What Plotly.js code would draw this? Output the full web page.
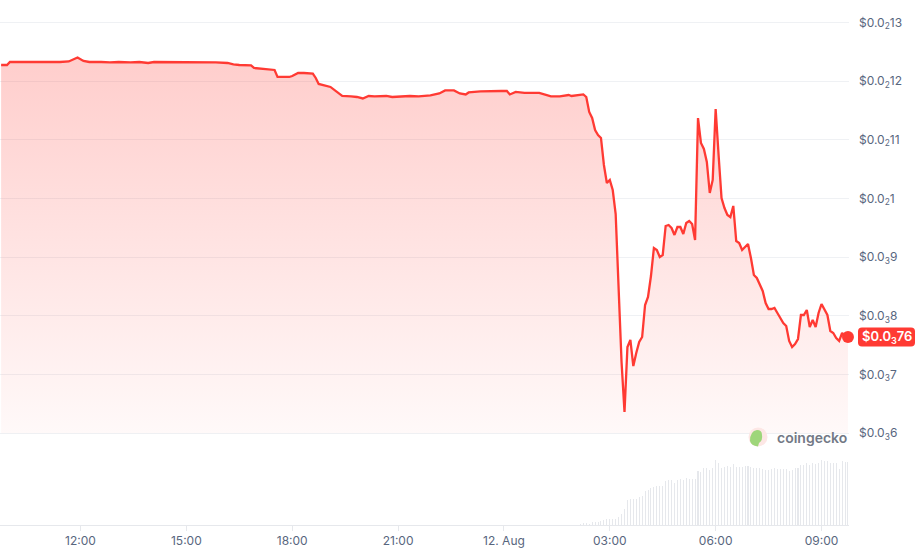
<!DOCTYPE html>
<html>
<head>
<meta charset="utf-8">
<script src="https://cdn.plot.ly/plotly-3.0.1.min.js"></script>
<style>
  html, body { margin: 0; padding: 0; background: #ffffff; }
  #chart { width: 919px; height: 559px; }
</style>
</head>
<body>
<div id="chart"></div>
<script>
// ---- price series (time, USD) ----
const priceTimes = [
  '2024-08-11 09:45','2024-08-11 09:55','2024-08-11 10:00','2024-08-11 10:35','2024-08-11 11:00',
  '2024-08-11 11:25','2024-08-11 11:40','2024-08-11 11:55','2024-08-11 12:05','2024-08-11 12:15',
  '2024-08-11 12:35','2024-08-11 12:50','2024-08-11 13:05','2024-08-11 13:25','2024-08-11 13:40',
  '2024-08-11 13:55','2024-08-11 14:05','2024-08-11 14:30','2024-08-11 15:00','2024-08-11 15:25',
  '2024-08-11 15:50','2024-08-11 16:10','2024-08-11 16:20','2024-08-11 16:30','2024-08-11 16:50',
  '2024-08-11 16:55','2024-08-11 17:10','2024-08-11 17:20','2024-08-11 17:30','2024-08-11 17:35',
  '2024-08-11 17:55','2024-08-11 18:00','2024-08-11 18:10','2024-08-11 18:20','2024-08-11 18:35',
  '2024-08-11 18:40','2024-08-11 18:45','2024-08-11 19:05','2024-08-11 19:15','2024-08-11 19:25',
  '2024-08-11 19:40','2024-08-11 19:50','2024-08-11 20:00','2024-08-11 20:10','2024-08-11 20:20',
  '2024-08-11 20:40','2024-08-11 20:50','2024-08-11 21:05','2024-08-11 21:20','2024-08-11 21:35',
  '2024-08-11 21:55','2024-08-11 22:10','2024-08-11 22:20','2024-08-11 22:35','2024-08-11 22:45',
  '2024-08-11 22:55','2024-08-11 23:00','2024-08-11 23:20','2024-08-11 23:35','2024-08-11 23:55',
  '2024-08-12 00:05','2024-08-12 00:10','2024-08-12 00:20','2024-08-12 00:35','2024-08-12 01:00',
  '2024-08-12 01:10','2024-08-12 01:20','2024-08-12 01:35','2024-08-12 01:50','2024-08-12 01:55',
  '2024-08-12 02:05','2024-08-12 02:15','2024-08-12 02:20','2024-08-12 02:25','2024-08-12 02:30',
  '2024-08-12 02:35','2024-08-12 02:40','2024-08-12 02:45','2024-08-12 02:50','2024-08-12 02:55',
  '2024-08-12 03:00','2024-08-12 03:05','2024-08-12 03:10','2024-08-12 03:15','2024-08-12 03:20',
  '2024-08-12 03:25','2024-08-12 03:30','2024-08-12 03:35','2024-08-12 03:40','2024-08-12 03:45',
  '2024-08-12 03:50','2024-08-12 03:55','2024-08-12 04:00','2024-08-12 04:05','2024-08-12 04:10',
  '2024-08-12 04:15','2024-08-12 04:20','2024-08-12 04:25','2024-08-12 04:30','2024-08-12 04:35',
  '2024-08-12 04:40','2024-08-12 04:45','2024-08-12 04:50','2024-08-12 04:55','2024-08-12 05:00',
  '2024-08-12 05:05','2024-08-12 05:10','2024-08-12 05:15','2024-08-12 05:20','2024-08-12 05:25',
  '2024-08-12 05:30','2024-08-12 05:35','2024-08-12 05:40','2024-08-12 05:45','2024-08-12 05:50',
  '2024-08-12 05:55','2024-08-12 06:00','2024-08-12 06:05','2024-08-12 06:10','2024-08-12 06:15',
  '2024-08-12 06:20','2024-08-12 06:25','2024-08-12 06:30','2024-08-12 06:35','2024-08-12 06:40',
  '2024-08-12 06:45','2024-08-12 06:50','2024-08-12 06:55','2024-08-12 07:00','2024-08-12 07:05',
  '2024-08-12 07:10','2024-08-12 07:15','2024-08-12 07:20','2024-08-12 07:25','2024-08-12 07:30',
  '2024-08-12 07:35','2024-08-12 07:40','2024-08-12 07:45','2024-08-12 07:50','2024-08-12 07:55',
  '2024-08-12 08:00','2024-08-12 08:05','2024-08-12 08:10','2024-08-12 08:15','2024-08-12 08:20',
  '2024-08-12 08:25','2024-08-12 08:30','2024-08-12 08:35','2024-08-12 08:40','2024-08-12 08:45',
  '2024-08-12 08:50','2024-08-12 08:55','2024-08-12 09:00','2024-08-12 09:05','2024-08-12 09:10',
  '2024-08-12 09:15','2024-08-12 09:20','2024-08-12 09:25','2024-08-12 09:30','2024-08-12 09:35',
  '2024-08-12 09:40','2024-08-12 09:45'
];
const prices = [
  0.0012273,0.0012273,0.0012324,0.0012324,0.0012316,
  0.0012324,0.0012333,0.0012401,0.0012341,0.0012324,
  0.0012324,0.0012316,0.0012324,0.0012316,0.0012324,
  0.0012307,0.0012324,0.0012324,0.0012324,0.0012324,
  0.0012316,0.0012307,0.0012282,0.0012273,0.0012265,
  0.0012222,0.0012205,0.0012188,0.0012188,0.0012069,
  0.0012069,0.0012086,0.0012137,0.0012137,0.0012128,
  0.0012052,0.0011950,0.0011899,0.0011814,0.0011745,
  0.0011737,0.0011728,0.0011703,0.0011745,0.0011737,
  0.0011745,0.0011728,0.0011737,0.0011745,0.0011737,
  0.0011754,0.0011788,0.0011839,0.0011839,0.0011788,
  0.0011771,0.0011805,0.0011822,0.0011830,0.0011830,
  0.0011830,0.0011771,0.0011814,0.0011797,0.0011797,
  0.0011762,0.0011737,0.0011737,0.0011762,0.0011745,
  0.0011754,0.0011771,0.0011728,0.0011473,0.0011371,
  0.0011166,0.0011081,0.0011030,0.0010570,0.0010263,
  0.0010315,0.0010144,0.0009735,0.0008440,0.0007210,
  0.0006363,0.0007470,0.0007589,0.0007146,0.0007368,
  0.0007555,0.0007640,0.0008185,0.0008322,0.0008679,
  0.0009156,0.0009122,0.0009003,0.0009037,0.0009531,
  0.0009548,0.0009497,0.0009378,0.0009514,0.0009514,
  0.0009394,0.0009582,0.0009616,0.0009565,0.0009292,
  0.0011370,0.0010945,0.0010843,0.0010621,0.0010093,
  0.0010315,0.0011524,0.0010740,0.0010008,0.0009837,
  0.0009720,0.0009684,0.0009872,0.0009275,0.0009241,
  0.0009122,0.0009173,0.0009224,0.0008986,0.0008696,
  0.0008645,0.0008543,0.0008424,0.0008219,0.0008117,
  0.0008117,0.0008134,0.0008049,0.0007964,0.0007879,
  0.0007828,0.0007572,0.0007470,0.0007521,0.0007606,
  0.0008015,0.0008015,0.0008100,0.0007811,0.0007930,
  0.0007811,0.0008049,0.0008202,0.0008117,0.0008015,
  0.0007742,0.0007708,0.0007623,0.0007572,0.0007708,
  0.0007640,0.0007640
];

// ---- volume bars (12 Aug, 5-min buckets) ----
const volumeClock = [
  '02:10','02:15','02:20','02:25','02:30','02:35','02:40','02:45','02:50','02:55',
  '03:00','03:05','03:10','03:15','03:20','03:25','03:30','03:35','03:40','03:45','03:50','03:55',
  '04:00','04:05','04:10','04:15','04:20','04:25','04:30','04:35','04:40','04:45','04:50','04:55',
  '05:00','05:05','05:10','05:15','05:20','05:25','05:30','05:35','05:40','05:45','05:50','05:55',
  '06:00','06:05','06:10','06:15','06:20','06:25','06:30','06:35','06:40','06:45','06:50','06:55',
  '07:00','07:05','07:10','07:15','07:20','07:25','07:30','07:35','07:40','07:45','07:50','07:55',
  '08:00','08:05','08:10','08:15','08:20','08:25','08:30','08:35','08:40','08:45','08:50','08:55',
  '09:00','09:05','09:10','09:15','09:20','09:25','09:30','09:35','09:40','09:45'
];
const volumes = [
  1000,2000,1700,1000,3000,3000,3000,4000,4700,5700,
  5700,5700,5700,8300,11000,15700,25000,25700,25700,26300,27700,29000,
  34000,35000,36700,37700,39000,39000,39000,44000,45000,45000,42300,45000,
  45700,45000,46700,46000,46000,45700,54300,53300,57000,57000,55000,57000,
  65000,61700,57000,58300,59000,58300,61000,57700,58300,58300,59000,59000,
  57700,56700,56700,56700,55700,55000,55000,56000,56700,56000,56000,56000,
  56000,54300,55000,56700,56700,60000,60000,61700,60000,61700,61000,62300,
  65000,64000,64000,61700,61700,62300,56000,64000,63300,62700
];

// ---- axis ticks ----
const yTickVals = [0.0006,0.0007,0.0008,0.0009,0.0010,0.0011,0.0012,0.0013];
const yTickText = [
  '$0.0<sub>3</sub>6','$0.0<sub>3</sub>7','$0.0<sub>3</sub>8','$0.0<sub>3</sub>9',
  '$0.0<sub>2</sub>1','$0.0<sub>2</sub>11','$0.0<sub>2</sub>12','$0.0<sub>2</sub>13'
];
const xTickVals = ['2024-08-11 12:00','2024-08-11 15:00','2024-08-11 18:00','2024-08-11 21:00',
                   '2024-08-12 00:00','2024-08-12 03:00','2024-08-12 06:00','2024-08-12 09:00'];
const xTickText = ['12:00','15:00','18:00','21:00','12. Aug','03:00','06:00','09:00'];
const lastLabel = '$0.0<sub>3</sub>76';

const RED = '#ff3a33';
const yRange = [0.0004438, 0.0013380];
const volTimes = volumeClock.map(t => '2024-08-12 ' + t);
const nLast = prices.length - 1;
const lastPaperY = (prices[nLast] - yRange[0]) / (yRange[1] - yRange[0]);

const traces = [
  {
    type: 'bar', x: volTimes, y: volumes, yaxis: 'y2',
    marker: { color: '#e6e8ec', line: { width: 0 } },
    width: 105000, hoverinfo: 'skip', showlegend: false
  },
  {
    type: 'scatter', mode: 'lines',
    x: [priceTimes[0], priceTimes[nLast]], y: [yTickVals[0], yTickVals[0]],
    line: { width: 0, color: 'rgba(0,0,0,0)' }, hoverinfo: 'skip', showlegend: false
  },
  {
    type: 'scatter', mode: 'lines', x: priceTimes, y: prices,
    line: { color: RED, width: 2.3, shape: 'linear' },
    fill: 'tonexty',
    fillgradient: {
      type: 'vertical',
      start: yTickVals[0], stop: 0.00124,
      colorscale: [[0, 'rgba(255,58,51,0.03)'], [1, 'rgba(255,58,51,0.25)']]
    },
    showlegend: false
  },
  {
    type: 'scatter', mode: 'markers', x: [priceTimes[nLast]], y: [prices[nLast]],
    marker: { color: RED, size: 12 }, cliponaxis: false, showlegend: false
  }
];

const tickFont = { family: 'Inter, "Open Sans", sans-serif', size: 12, color: '#58667e' };

const layout = {
  width: 919, height: 559,
  margin: { l: 0, r: 70, t: 0, b: 34, pad: 0 },
  paper_bgcolor: '#ffffff', plot_bgcolor: '#ffffff',
  showlegend: false,
  bargap: 0,
  xaxis: {
    type: 'date',
    range: ['2024-08-11 09:43:06', '2024-08-12 09:46:45'],
    tickmode: 'array', tickvals: xTickVals, ticktext: xTickText,
    showgrid: false, zeroline: false,
    showline: true, linecolor: '#e6e8ec', linewidth: 1,
    ticks: 'outside', ticklen: 5, tickcolor: '#e6e8ec', tickwidth: 1,
    tickfont: tickFont
  },
  yaxis: {
    range: yRange, side: 'right',
    tickmode: 'array', tickvals: yTickVals, ticktext: yTickText,
    showgrid: true, gridcolor: '#eff1f4', gridwidth: 1,
    zeroline: false, showline: false, ticks: '',
    ticklabelstandoff: 9,
    tickfont: tickFont
  },
  yaxis2: {
    overlaying: 'y', range: [0, 525000], visible: false, fixedrange: true
  },
  shapes: [
    {
      type: 'path', xref: 'paper', yref: 'paper',
      xsizemode: 'pixel', ysizemode: 'pixel', xanchor: 1, yanchor: lastPaperY,
      path: 'M 13,-9.5 L 62,-9.5 Q 66,-9.5 66,-5.5 L 66,5.5 Q 66,9.5 62,9.5 L 13,9.5 Q 9,9.5 9,5.5 L 9,-5.5 Q 9,-9.5 13,-9.5 Z',
      fillcolor: RED, line: { width: 0 }, layer: 'above'
    },
    {
      type: 'circle', xref: 'paper', yref: 'paper',
      xsizemode: 'pixel', ysizemode: 'pixel', xanchor: 758 / 849, yanchor: 88 / 525,
      x0: -9.5, x1: 9.5, y0: -9.5, y1: 9.5,
      fillcolor: '#fde7e5', line: { width: 0 }, layer: 'above'
    },
    {
      type: 'path', xref: 'paper', yref: 'paper',
      xsizemode: 'pixel', ysizemode: 'pixel', xanchor: 758 / 849, yanchor: 88 / 525,
      path: 'M -8,-4 Q -8,6 -1,7 Q 4,7 4,2 Q 5,-3 1,-6 L 0,-9.5 Q -7,-8.5 -8,-4 Z',
      fillcolor: '#9ed67a', line: { width: 0 }, layer: 'above'
    }
  ],
  annotations: [
    {
      xref: 'paper', yref: 'y', x: 1, y: prices[nLast], xanchor: 'center', yanchor: 'middle',
      xshift: 37.5, showarrow: false, text: lastLabel,
      font: { family: 'Inter, "Open Sans", sans-serif', size: 13, color: '#ffffff', weight: 600 }
    },
    {
      xref: 'paper', yref: 'paper', x: 775 / 849, y: 88 / 525, xanchor: 'left', yanchor: 'middle',
      showarrow: false, text: 'coingecko',
      font: { family: 'Inter, "Open Sans", sans-serif', size: 14, color: '#737986', weight: 600 }
    }
  ]
};

Plotly.newPlot('chart', traces, layout, { staticPlot: true, displayModeBar: false });
</script>
</body>
</html>
